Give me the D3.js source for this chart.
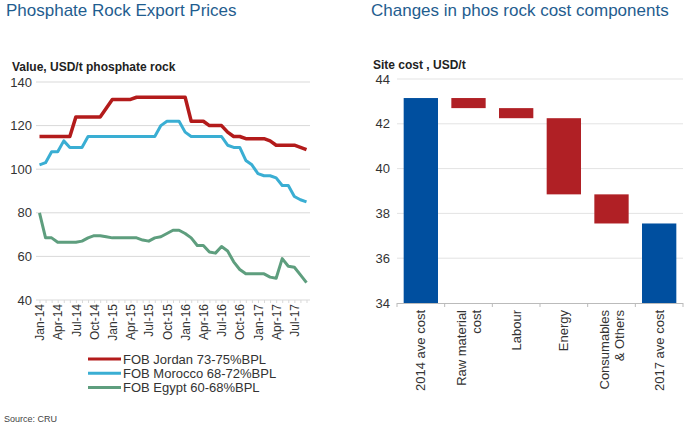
<!DOCTYPE html><html><head><meta charset="utf-8"><script src="https://cdn.jsdelivr.net/npm/d3@7"></script>
<style>body{margin:0;background:#fff}svg{font-family:Arial,"Liberation Sans",sans-serif}</style></head><body><svg id="c" width="698" height="426"></svg><script>
const monthNames=["Jan","Feb","Mar","Apr","May","Jun","Jul","Aug","Sep","Oct","Nov","Dec"];
const months=d3.range(45).map(i=>monthNames[i%12]+"-"+(14+Math.floor(i/12)));
const jordan=[115,115,115,115,115,115,124,124,124,124,124,128,132,132,132,132,133,133,133,133,133,133,133,133,133,122,122,122,120,120,120,117,115,115,114,114,114,114,113,111,111,111,111,110,109];
const morocco=[102,103,108,108,113,110,110,110,115,115,115,115,115,115,115,115,115,115,115,115,120,122,122,122,117,115,115,115,115,115,115,111,110,110,104,102,98,97,97,96,92.5,92.5,87.5,86,85];
const egypt=[80,68.5,68.5,66.5,66.5,66.5,66.5,67,68.5,69.5,69.5,69,68.5,68.5,68.5,68.5,68.5,67.5,67,68.5,69,70.5,72,72,70.5,68.5,65,65,62,61.5,64.5,62.5,57.5,54,52,52,52,52,50.5,50,59,55.5,55,51.5,48];
const seriesNames=["FOB Jordan 73-75%BPL","FOB Morocco 68-72%BPL","FOB Egypt 60-68%BPL"];
const seriesColors=["#b31b1b","#3aaed3","#5e9e7e"];
const leftTicks=[40,60,80,100,120,140];
const wfCats=["2014 ave cost","Raw material|cost","Labour","Energy","Consumables|& Others","2017 ave cost"];
const wfStart=[34,43.15,42.7,42.25,38.85,34];
const wfEnd=[43.15,42.7,42.25,38.85,37.55,37.55];
const wfTotal=[true,false,false,false,false,true];
const rightTicks=[34,36,38,40,42,44];

const svg=d3.select("#c");
const tc="#1f5d8f";
svg.append("text").attr("x",6).attr("y",16).attr("font-size",17).attr("fill",tc).text("Phosphate Rock Export Prices");
svg.append("text").attr("x",371).attr("y",16).attr("font-size",17).attr("fill",tc).text("Changes in phos rock cost components");
svg.append("text").attr("x",4).attr("y",422).attr("font-size",9).attr("fill","#444").text("Source: CRU");

// left chart
const x=d3.scalePoint().domain(months).range([39.5,306.5]);
const y=d3.scaleLinear().domain([40,140]).range([300,82]);
const g=svg.append("g");
g.append("text").attr("x",12).attr("y",71).attr("font-size",12).attr("font-weight","bold").attr("fill","#222").text("Value, USD/t phosphate rock");
leftTicks.forEach(t=>{ if(t>40) g.append("line").attr("x1",36).attr("x2",310).attr("y1",y(t)).attr("y2",y(t)).attr("stroke","#d9d9d9"); });
g.append("g").attr("transform","translate(36,0)").call(d3.axisLeft(y).tickValues(leftTicks).tickSize(0).tickPadding(4))
 .call(a=>a.select(".domain").remove()).selectAll("text").attr("font-size",13).attr("fill","#333").attr("font-family","Arial,Liberation Sans");
const xa=g.append("g").attr("transform","translate(0,300)").call(d3.axisBottom(x).tickValues(months).tickSize(3).tickFormat((d,i)=>i%3===0?d:""));
xa.select(".domain").attr("stroke","#d9d9d9").attr("d","M36,0H310");
xa.selectAll("line").attr("stroke","#d9d9d9");
xa.selectAll("text").attr("font-size",12).attr("fill","#333").attr("font-family","Arial,Liberation Sans")
 .attr("transform","rotate(-90)").attr("text-anchor","end").attr("dx","-4").attr("dy","0.35em").attr("x",0).attr("y",0);
const line=d3.line().x((d,i)=>x(months[i])).y(d=>y(d));
[jordan,morocco,egypt].forEach((s,k)=>g.append("path").datum(s).attr("d",line).attr("fill","none").attr("stroke",seriesColors[k]).attr("stroke-width",k===0?3.5:3).attr("stroke-linejoin","round"));
seriesNames.forEach((n,k)=>{const yy=359+k*14.3;
 g.append("line").attr("x1",88).attr("x2",121).attr("y1",yy).attr("y2",yy).attr("stroke",seriesColors[k]).attr("stroke-width",3);
 g.append("text").attr("x",123).attr("y",yy+4.5).attr("font-size",13).attr("fill","#333").text(n);});

// right chart
const xb=d3.scaleBand().domain(wfCats).range([397,683]).paddingInner(0.28).paddingOuter(0.14);
const yb=d3.scaleLinear().domain([34,44]).range([303,79]);
const h=svg.append("g");
h.append("text").attr("x",373).attr("y",69).attr("font-size",12).attr("font-weight","bold").attr("fill","#222").text("Site cost , USD/t");
rightTicks.forEach(t=>{ if(t>34) h.append("line").attr("x1",397).attr("x2",683).attr("y1",yb(t)).attr("y2",yb(t)).attr("stroke","#e3e3e3"); });
h.append("g").attr("transform","translate(394,0)").call(d3.axisLeft(yb).tickValues(rightTicks).tickSize(0).tickPadding(4))
 .call(a=>a.select(".domain").remove()).selectAll("text").attr("font-size",13).attr("fill","#333").attr("font-family","Arial,Liberation Sans");
wfCats.forEach((c,i)=>{const a=Math.max(wfStart[i],wfEnd[i]),b=Math.min(wfStart[i],wfEnd[i]);
 h.append("rect").attr("x",xb(c)).attr("width",xb.bandwidth()).attr("y",yb(a)).attr("height",yb(b)-yb(a)).attr("fill",wfTotal[i]?"#004f9f":"#b02025");});
h.append("line").attr("x1",397).attr("x2",683).attr("y1",303.5).attr("y2",303.5).attr("stroke","#bbb");
d3.range(7).forEach(i=>h.append("line").attr("x1",397+i*(286/6)).attr("x2",397+i*(286/6)).attr("y1",303).attr("y2",307).attr("stroke","#bbb"));
wfCats.forEach((c,i)=>{const cx=397+(i+0.5)*(286/6);const parts=c.split("|");
 const t=h.append("text").attr("transform",`translate(${cx},310) rotate(-90)`).attr("text-anchor","end").attr("font-size",13).attr("fill","#333");
 parts.forEach((p,j)=>t.append("tspan").attr("x",0).attr("dy",j===0?(parts.length===1?4.5:-3):15).text(p));});
</script></body></html>
